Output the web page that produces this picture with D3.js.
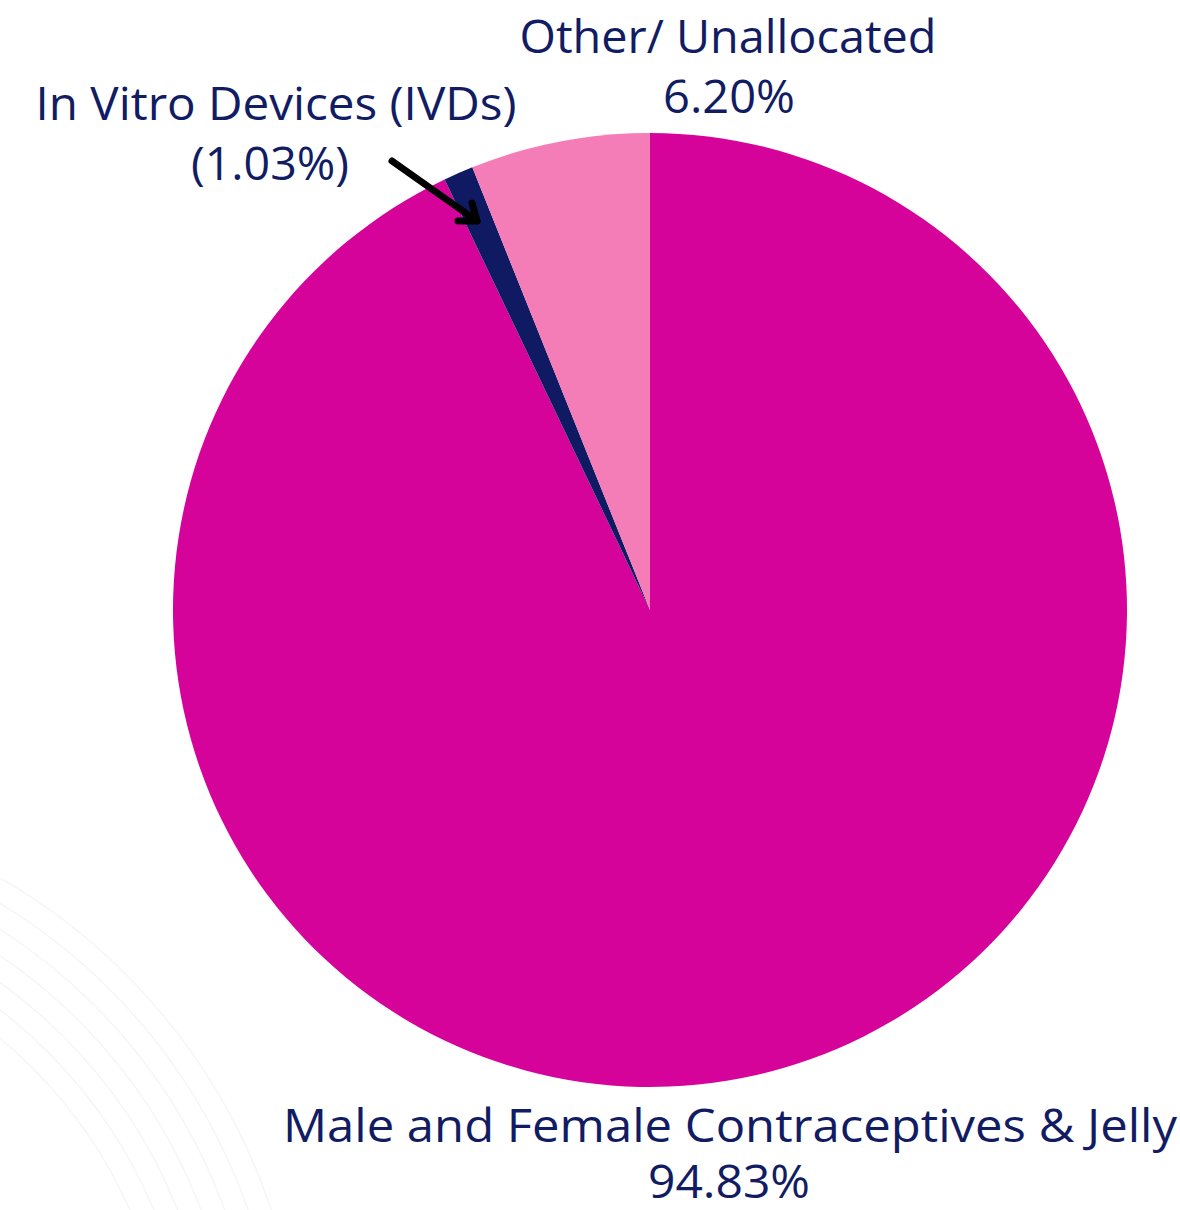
<!DOCTYPE html>
<html><head><meta charset="utf-8">
<script src="https://cdn.jsdelivr.net/npm/d3@7"></script>
<style>html,body{margin:0;padding:0;background:#fff;}svg{display:block;}</style>
</head><body>
<svg id="chart" width="1180" height="1210"></svg>
<script>
const categories = ["Male and Female Contraceptives & Jelly", "In Vitro Devices (IVDs)", "Other/ Unallocated"];
const values = [94.83, 1.03, 6.20];
const valueLabels = ["94.83%", "(1.03%)", "6.20%"];
const colors = ["#d6039b", "#0f1a63", "#f47db8"];

const svg = d3.select("#chart");
const cx = 650, cy = 610, R = 477;
const textColor = "#111c63";

// faint decorative arcs bottom-left
const deco = svg.append("g");
d3.range(7).forEach(i => {
  deco.append("circle").attr("cx", -300).attr("cy", 1400).attr("r", 470 + i * 22)
    .attr("fill", "none").attr("stroke", "#f8f5f7").attr("stroke-width", 1.5);
});

const pie = d3.pie().sort(null).value(d => d).startAngle(0).endAngle(2 * Math.PI);
const arc = d3.arc().innerRadius(0).outerRadius(R);
const g = svg.append("g").attr("transform", `translate(${cx},${cy})`);
g.selectAll("path").data(pie(values)).join("path")
  .attr("d", arc).attr("fill", (d, i) => colors[i]);

const font = "'Open Sans', 'Noto Sans', sans-serif";
function label(lines, x, ys, widths, size) {
  const t = svg.append("g");
  lines.forEach((s, i) => {
    t.append("text").attr("x", x[i]).attr("y", ys[i]).attr("text-anchor", "middle")
      .attr("font-family", font).attr("font-size", size).attr("fill", textColor)
      .attr("textLength", widths[i]).attr("lengthAdjust", "spacingAndGlyphs").text(s);
  });
}
label([categories[2], valueLabels[2]], [728, 729], [53, 113], [417, 132], 45);
label([categories[1], valueLabels[1]], [276, 270], [120, 180], [481, 158], 45);
label([categories[0], valueLabels[0]], [730, 729], [1142, 1198], [894, 162], 45);

// arrow to IVD slice
const arrow = svg.append("g").attr("stroke", "#000").attr("stroke-width", 7)
  .attr("stroke-linecap", "round").attr("stroke-linejoin", "round").attr("fill", "none");
arrow.append("line").attr("x1", 392).attr("y1", 161).attr("x2", 477).attr("y2", 221);
arrow.append("polyline").attr("points", "472,203 477,221 458,221");
</script>
</body></html>
